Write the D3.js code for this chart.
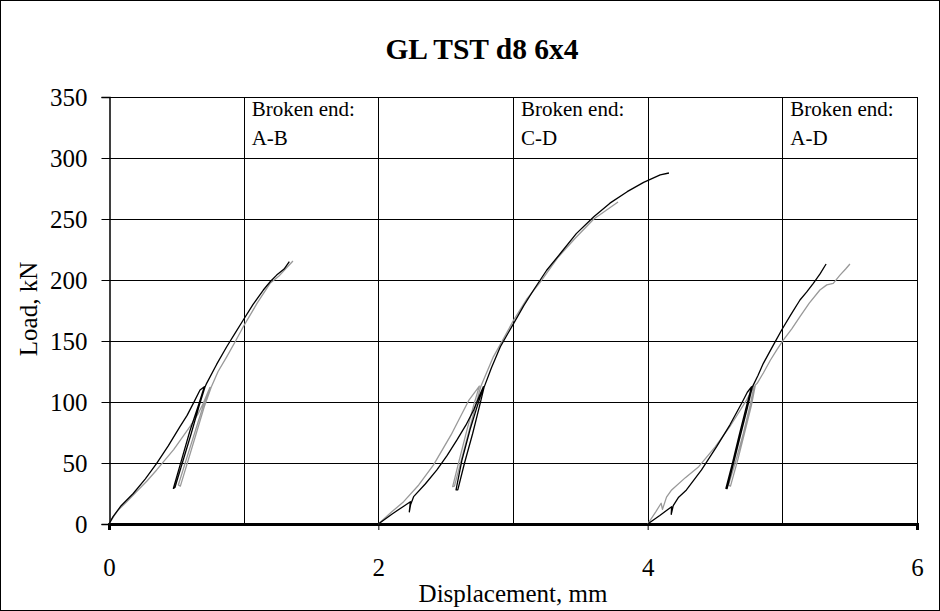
<!DOCTYPE html>
<html><head><meta charset="utf-8">
<script src="https://cdn.jsdelivr.net/npm/d3@7"></script>
<style>body{margin:0;background:#fff}svg{display:block}</style>
</head><body>
<svg id="chart" width="940" height="611"></svg>
<script>
const title = "GL TST d8 6x4";
const xTicks = [0, 2, 4, 6];
const xGrid = [1, 2, 3, 4, 5, 6];
const yTicks = [0, 50, 100, 150, 200, 250, 300, 350];
const notes = [
  {x: 1, lines: ["Broken end:", "A-B"]},
  {x: 3, lines: ["Broken end:", "C-D"]},
  {x: 5, lines: ["Broken end:", "A-D"]}
];
// Specimen 1 (start 0 mm)
const black1 = [[0,0],[0.03,6],[0.07,12],[0.09,15],[0.18,25],[0.27,37],[0.354,49.7],[0.44,64],[0.527,79.8],[0.58,89],[0.626,98.9],[0.676,109.8],[0.708,112.5],
  [0.66,96],[0.6,76],[0.54,53],[0.478,29.2],[0.49,30],[0.55,52],[0.61,74],[0.67,97],[0.712,112],
  [0.725,115.3],[0.8,131],[0.874,145.3],[0.94,157],[0.997,167.2],[1.07,180],[1.146,191.8],[1.2,199],[1.245,204],[1.3,209],[1.339,215]];
const gray1 = [[0,0],[0.04,7],[0.069,11.5],[0.13,18],[0.2,26],[0.28,35],[0.354,44.3],[0.48,61],[0.601,79.8],[0.66,90],[0.70,99],[0.75,112],
  [0.70,97],[0.64,76],[0.58,55],[0.515,32],[0.53,31],[0.59,53],[0.65,75],[0.71,97],[0.762,113],
  [0.81,125],[0.874,137],[0.94,150],[0.997,161.7],[1.1,181],[1.196,197.3],[1.26,203],[1.31,209],[1.366,215.6]];
// Specimen 2 (start 2 mm)
const black2 = [[2,0],[2.1,8],[2.18,14],[2.238,18.3],[2.23,10],[2.24,16],[2.262,22.4],[2.35,33],[2.435,44.3],[2.51,56],[2.584,68.9],[2.65,81],[2.708,93.4],[2.75,105],[2.78,112.5],
  [2.73,95],[2.68,77],[2.62,52],[2.577,27.9],[2.59,28],[2.64,50],[2.7,74],[2.75,96],[2.785,112],
  [2.84,128],[2.906,145.3],[3.005,164.5],[3.08,179],[3.153,191.8],[3.25,208],[3.353,221.9],[3.47,238],[3.6,251.9],[3.72,263],[3.848,272.4],[3.97,280],[4.093,286.1],[4.158,287.7]];
const gray2 = [[2,0],[2.1,10],[2.188,18.3],[2.3,32],[2.41,48.4],[2.54,73],[2.673,101.6],[2.75,113],
  [2.71,98],[2.66,78],[2.6,52],[2.552,30.6],[2.565,31],[2.62,54],[2.68,79],[2.73,100],[2.76,112.5],
  [2.854,137],[2.93,152],[3.005,167.2],[3.1,184],[3.205,198.6],[3.33,218],[3.46,234],[3.6,250],[3.78,264]];
// Specimen 3 (start 4 mm)
const black3 = [[4,0],[4.09,7],[4.178,14.2],[4.175,8],[4.19,15],[4.23,22],[4.288,27.9],[4.4,44.3],[4.512,63.4],[4.61,81.1],[4.698,99],[4.74,108],[4.772,112.5],
  [4.73,95],[4.68,73],[4.63,50],[4.581,29.2],[4.59,29],[4.64,51],[4.69,73],[4.74,95],[4.776,112],
  [4.82,122],[4.859,131.7],[4.93,146],[4.995,159],[5.06,171],[5.131,183.6],[5.18,190],[5.23,197.3],[5.28,205],[5.325,213.1]];
const gray3 = [[4,0],[4.06,10],[4.1,17],[4.11,12],[4.14,22],[4.178,27.9],[4.28,38],[4.379,47],[4.5,63],[4.61,79.8],[4.68,92],[4.734,101.6],[4.79,113],
  [4.76,97],[4.71,74],[4.655,52],[4.6,32],[4.615,31],[4.67,53],[4.72,75],[4.77,97],[4.8,114],
  [4.813,115.3],[4.86,124],[4.912,134.4],[4.96,143],[5.007,150.8],[5.07,160],[5.131,169.9],[5.2,181],[5.279,191.8],[5.33,196],[5.378,197.3],[5.428,204],[5.47,209],[5.502,213.1]];

const seriesList = [
  {data: gray1, color: "#999999"}, {data: black1, color: "#000000"},
  {data: gray2, color: "#999999"}, {data: black2, color: "#000000"},
  {data: gray3, color: "#999999"}, {data: black3, color: "#000000"}
];

const svg = d3.select("#chart");
const W = 940, H = 611;
const m = {left: 109, right: 917, top: 97, bottom: 524};
const x = d3.scaleLinear().domain([0, 6]).range([m.left, m.right]);
const y = d3.scaleLinear().domain([0, 350]).range([m.bottom, m.top]);
const serif = "'Liberation Serif','Times New Roman',serif";

svg.append("rect").attr("x", 0.5).attr("y", 0.5).attr("width", W - 1).attr("height", H - 1)
  .attr("fill", "#fff").attr("stroke", "#000").attr("stroke-width", 1);

// horizontal grid
svg.append("g").selectAll("line").data(yTicks.slice(1)).join("line")
  .attr("x1", m.left).attr("x2", m.right)
  .attr("y1", d => Math.round(y(d)) + 0.5).attr("y2", d => Math.round(y(d)) + 0.5)
  .attr("stroke", "#000").attr("stroke-width", 1);
// vertical grid
svg.append("g").selectAll("line").data(xGrid).join("line")
  .attr("x1", d => Math.round(x(d)) + 0.5).attr("x2", d => Math.round(x(d)) + 0.5)
  .attr("y1", m.top).attr("y2", m.bottom)
  .attr("stroke", "#000").attr("stroke-width", 1);

// y axis
const yAxis = d3.axisLeft(y).tickValues(yTicks).tickSize(8).tickPadding(14).tickFormat(d3.format("d"));
const gy = svg.append("g").attr("transform", `translate(${m.left + 0.5},0)`).call(yAxis);
gy.select(".domain").attr("stroke", "#000").attr("stroke-width", 1.5);
gy.selectAll("text").attr("font-family", serif).attr("font-size", 25).attr("fill", "#000");

// x axis
const xAxis = d3.axisBottom(x).tickValues(xTicks).tickSize(6).tickPadding(0).tickFormat(d3.format("d"));
const gx = svg.append("g").attr("transform", `translate(0,${m.bottom})`).call(xAxis);
gx.select(".domain").attr("stroke", "#000").attr("stroke-width", 3);
gx.selectAll("text").attr("font-family", serif).attr("font-size", 25).attr("fill", "#000")
  .attr("y", 52).attr("dy", 0);

// curves
const line = d3.line().x(d => x(d[0])).y(d => y(d[1])).curve(d3.curveLinear);
svg.append("g").selectAll("path").data(seriesList).join("path")
  .attr("d", d => line(d.data)).attr("fill", "none")
  .attr("stroke", d => d.color).attr("stroke-width", 1.3).attr("stroke-linejoin", "round");

// notes
const ng = svg.append("g").attr("font-family", serif).attr("font-size", 21).attr("fill", "#000");
notes.forEach(n => {
  n.lines.forEach((t, i) => {
    ng.append("text").attr("x", x(n.x) + 8).attr("y", 116 + i * 29).text(t);
  });
});

// title
svg.append("text").attr("x", 482).attr("y", 59).attr("text-anchor", "middle")
  .attr("font-family", serif).attr("font-size", 29.5).attr("font-weight", "bold").text(title);
// axis titles
svg.append("text").attr("x", x(3)).attr("y", 602).attr("text-anchor", "middle")
  .attr("font-family", serif).attr("font-size", 25).text("Displacement, mm");
svg.append("text").attr("transform", `translate(37,309) rotate(-90)`)
  .attr("text-anchor", "middle").attr("font-family", serif).attr("font-size", 25).text("Load, kN");
</script>
</body></html>
